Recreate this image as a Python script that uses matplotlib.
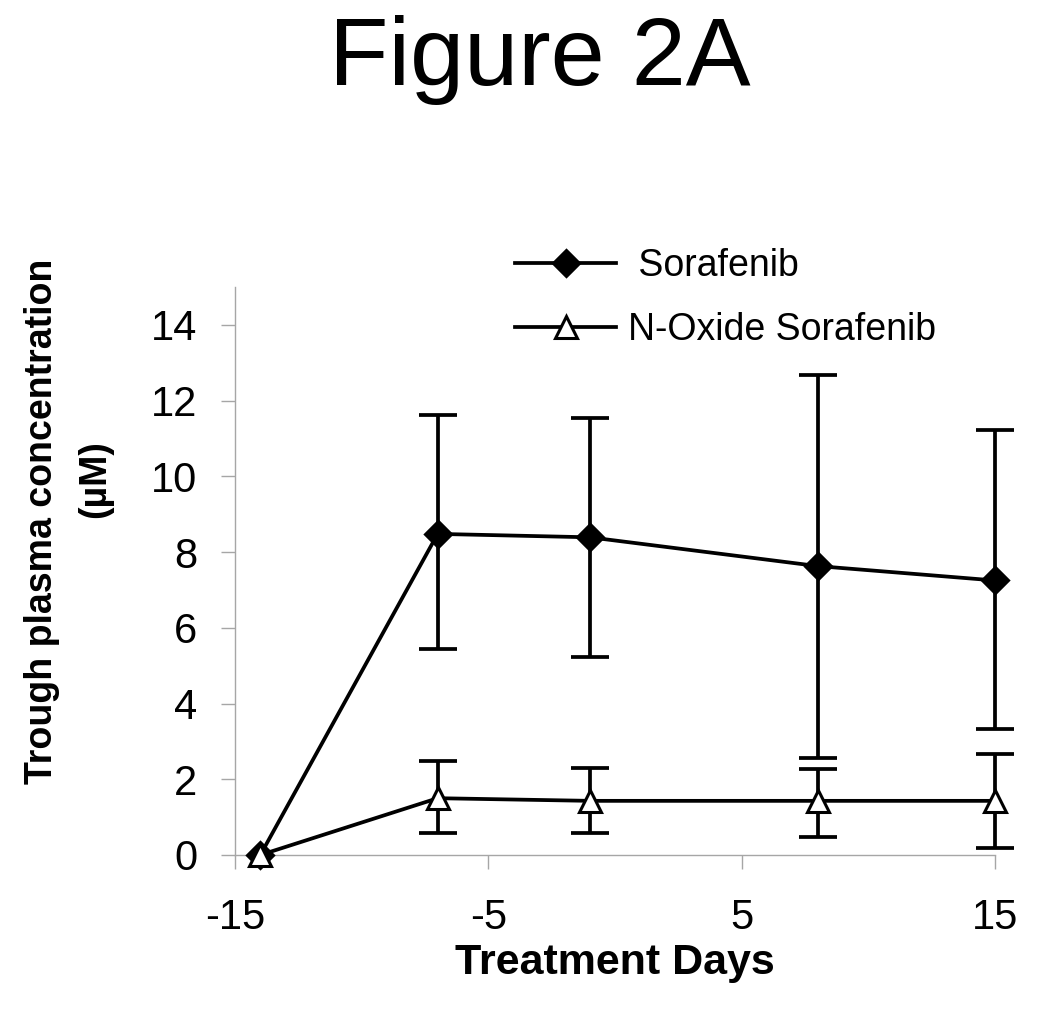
import numpy as np
import matplotlib.pyplot as plt

plt.rcParams['font.family'] = ['Liberation Sans', 'DejaVu Sans']

days = [-14, -7, -1, 8, 15]

# Sorafenib trough concentration (uM) with error-bar bounds
sora_mean = [0.0, 8.48, 8.39, 7.63, 7.25]
sora_low = [0.0, 5.44, 5.24, 2.57, 3.33]
sora_high = [0.0, 11.62, 11.53, 12.67, 11.23]

# N-oxide sorafenib
nox_mean = [0.0, 1.50, 1.43, 1.43, 1.43]
nox_low = [0.0, 0.58, 0.58, 0.47, 0.19]
nox_high = [0.0, 2.48, 2.29, 2.28, 2.66]

xticks = [-15, -5, 5, 15]
yticks = [0, 2, 4, 6, 8, 10, 12, 14]

fig = plt.figure(figsize=(10.5, 10.1), dpi=100)
ax = fig.add_axes([235 / 1050, (1010 - 855) / 1010, 760 / 1050, 568 / 1010])

lw = 2.7
grey = '#a6a6a6'


def draw_series(mean, low, high, marker, ms, face, label):
    mean = np.array(mean)
    err = np.vstack([mean - np.array(low), np.array(high) - mean])
    eb = ax.errorbar(days[1:], mean[1:], yerr=err[:, 1:], fmt='none', ecolor='black',
                     elinewidth=lw, capsize=14, capthick=lw, zorder=2)
    for child in eb.get_children():
        child.set_clip_on(False)
    ax.plot(days, mean, color='black', lw=lw, marker=marker, ms=ms,
            mfc=face, mec='black', mew=2.2, label=label, zorder=3, clip_on=False)


draw_series(sora_mean, sora_low, sora_high, 'D', 13.5, 'black', ' Sorafenib')
draw_series(nox_mean, nox_low, nox_high, '^', 16, 'white', 'N-Oxide Sorafenib')

ax.set_xlim(-15, 15)
ax.set_ylim(0, 15)
ax.set_xticks(xticks)
ax.set_yticks(yticks)
ax.set_xticklabels([str(t) for t in xticks])
ax.set_yticklabels([str(t) for t in yticks])
ax.tick_params(axis='both', direction='out', length=10, width=1, color=grey,
               labelsize=30)
ax.tick_params(axis='y', pad=17)
ax.tick_params(axis='x', pad=21)

for side in ['top', 'right']:
    ax.spines[side].set_visible(False)
for side in ['left', 'bottom']:
    ax.spines[side].set_color(grey)
    ax.spines[side].set_linewidth(1)

ax.legend(loc='upper left', bbox_to_anchor=(265 / 760, 1.095), frameon=False,
          fontsize=27, handlelength=2.7, handletextpad=0.3, labelspacing=0.75,
          borderaxespad=0)

fig.text(615 / 1050, 1 - 974 / 1010, 'Treatment Days', fontsize=31,
         fontweight='bold', ha='center', va='baseline')
fig.text(42 / 1050, 1 - 521 / 1010, 'Trough plasma concentration', fontsize=27,
         fontweight='bold', rotation=90, ha='center', va='center')
fig.text(95 / 1050, 1 - 479 / 1010, '(µM)', fontsize=27,
         fontweight='bold', rotation=90, ha='center', va='center')

fig.text(540 / 1050, 1 - 60 / 1010, 'Figure 2A', fontsize=70,
         ha='center', va='center')

fig.savefig('out.png', dpi=100)
